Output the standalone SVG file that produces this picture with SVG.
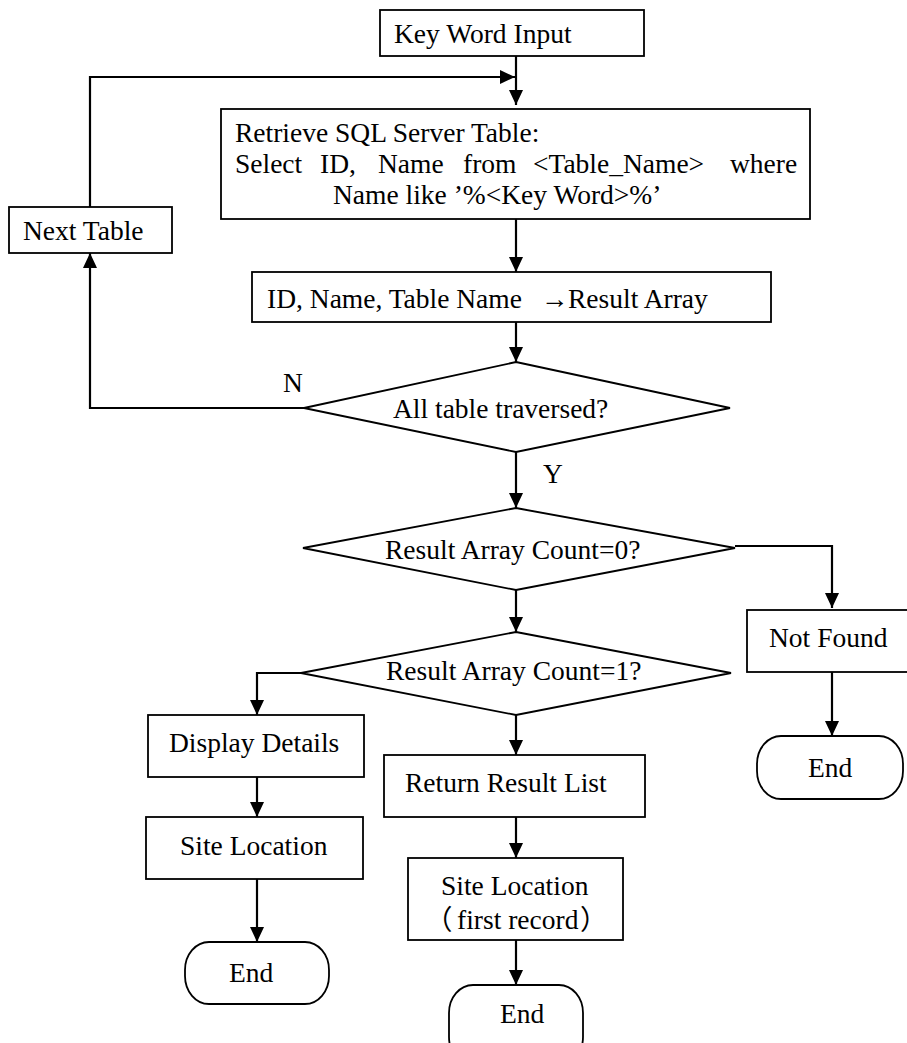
<svg xmlns="http://www.w3.org/2000/svg" width="907" height="1043" viewBox="0 0 907 1043">
<style>
.box{fill:#fff;stroke:#000;stroke-width:1.8}
.ln{fill:none;stroke:#000;stroke-width:2.2}
.t{font-family:"Liberation Serif","Noto Sans CJK SC",serif;font-size:27.5px;fill:#000}
</style>
<defs>
<marker id="ah" markerUnits="userSpaceOnUse" markerWidth="16" markerHeight="14" refX="15" refY="7" orient="auto" viewBox="0 0 16 14">
<path d="M0,0 L15,7 L0,14 z" fill="#000"/>
</marker>
</defs>
<rect width="907" height="1043" fill="#fff"/>
<g id="connectors">
<path class="ln" d="M516,56 V105" marker-end="url(#ah)"/>
<path class="ln" d="M90,207 V77 H515" marker-end="url(#ah)"/>
<path class="ln" d="M516,219 V272" marker-end="url(#ah)"/>
<path class="ln" d="M516,322 V362" marker-end="url(#ah)"/>
<path class="ln" d="M304,408 H90 V253" marker-end="url(#ah)"/>
<path class="ln" d="M516,452 V508" marker-end="url(#ah)"/>
<path class="ln" d="M735,546 H832 V608" marker-end="url(#ah)"/>
<path class="ln" d="M516,590 V632" marker-end="url(#ah)"/>
<path class="ln" d="M832,672 V736" marker-end="url(#ah)"/>
<path class="ln" d="M301,673 H257 V715" marker-end="url(#ah)"/>
<path class="ln" d="M516,715 V755" marker-end="url(#ah)"/>
<path class="ln" d="M257,777 V817" marker-end="url(#ah)"/>
<path class="ln" d="M257,879 V942" marker-end="url(#ah)"/>
<path class="ln" d="M516,817 V858" marker-end="url(#ah)"/>
<path class="ln" d="M516,940 V985" marker-end="url(#ah)"/>
<text class="t" x="283" y="392">N</text>
<text class="t" x="543" y="483">Y</text>
</g>
<g id="keyword">
<rect class="box" x="380" y="10" width="264" height="46"/>
<text class="t" x="394" y="43">Key Word Input</text>
</g>
<g id="retrieve">
<rect class="box" x="221" y="109" width="589" height="110"/>
<text class="t" x="235" y="142">Retrieve SQL Server Table:</text>
<text class="t" y="173"><tspan x="235">Select</tspan><tspan x="320">ID,</tspan><tspan x="378">Name</tspan><tspan x="463">from</tspan><tspan x="533">&lt;Table_Name&gt;</tspan><tspan x="730">where</tspan></text>
<text class="t" x="333" y="204">Name like ’%&lt;Key Word&gt;%’</text>
</g>
<g id="nexttable">
<rect class="box" x="9" y="207" width="163" height="46"/>
<text class="t" x="23" y="240">Next Table</text>
</g>
<g id="resultarray">
<rect class="box" x="252" y="272" width="519" height="50"/>
<text class="t" y="308"><tspan x="267">ID, Name, Table Name</tspan><tspan x="541">→</tspan><tspan x="568">Result Array</tspan></text>
</g>
<g id="alltraversed">
<polygon class="box" points="516,362 730,408 516,452 304,408"/>
<text class="t" x="393" y="418">All table traversed?</text>
</g>
<g id="count0">
<polygon class="box" points="516,508 735,548 516,590 303,548"/>
<text class="t" x="385" y="559">Result Array Count=0?</text>
</g>
<g id="count1">
<polygon class="box" points="516,632 731,673 516,715 301,673"/>
<text class="t" x="386" y="680">Result Array Count=1?</text>
</g>
<g id="notfound">
<rect class="box" x="747" y="610" width="165" height="62"/>
<text class="t" x="769" y="647">Not Found</text>
</g>
<g id="end3">
<rect class="box" x="757" y="736" width="146" height="63" rx="24" ry="28"/>
<text class="t" x="808" y="777">End</text>
</g>
<g id="display">
<rect class="box" x="148" y="715" width="216" height="62"/>
<text class="t" x="169" y="752">Display Details</text>
</g>
<g id="siteloc1">
<rect class="box" x="146" y="817" width="217" height="62"/>
<text class="t" x="180" y="855">Site Location</text>
</g>
<g id="end1">
<rect class="box" x="185" y="942" width="144" height="62" rx="24" ry="28"/>
<text class="t" x="229" y="982">End</text>
</g>
<g id="returnlist">
<rect class="box" x="384" y="755" width="261" height="62"/>
<text class="t" x="405" y="792">Return Result List</text>
</g>
<g id="siteloc2">
<rect class="box" x="408" y="858" width="215" height="82"/>
<text class="t" x="441" y="895">Site Location</text>
<text class="t" y="929"><tspan x="425">（</tspan><tspan x="457">first record</tspan><tspan x="580">）</tspan></text>
</g>
<g id="end2">
<rect class="box" x="449" y="985" width="134" height="80" rx="24" ry="28"/>
<text class="t" x="500" y="1023">End</text>
</g>
</svg>
